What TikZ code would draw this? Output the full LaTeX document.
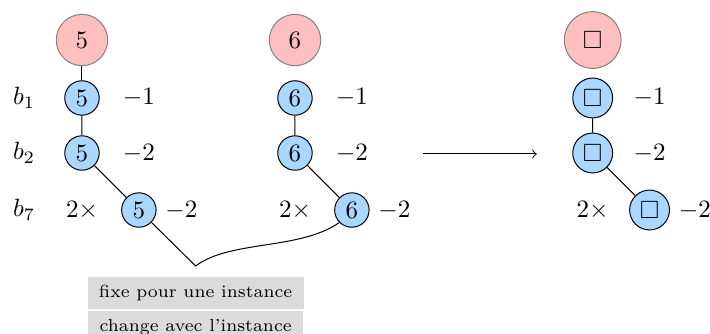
\documentclass[tikz,border=0pt]{standalone}
\usepackage{amsmath,amssymb}
\usepackage{tikz}
\usetikzlibrary{positioning}
\definecolor{racine}{RGB}{255,191,191}
\definecolor{bloc}{RGB}{170,215,255}

\begin{document}
\begin{tikzpicture}[
  racinenode/.style={circle,draw=gray,fill=racine,inner sep=4.4pt},
  blocnode/.style={circle,draw,fill=bloc,inner sep=2pt},
  notebox/.style={fill=gray!28,font=\scriptsize,text height=5pt,text depth=1.5pt,inner xsep=4.5pt,inner ysep=3.1pt},
]
  \useasboundingbox (0,0) rectangle (9.986,-4.697); % marges de la figure
  \def\yr{-0.563}  % ligne des racines
  \def\yu{-1.378}  % ligne b_1
  \def\yd{-2.152}  % ligne b_2
  \def\ys{-2.954}  % ligne b_7
  \node (lb1) at (0.34,\yu) {$b_1$};
  \node (lb2) at (0.34,\yd) {$b_2$};
  \node (lb7) at (0.34,\ys) {$b_7$};
  \foreach \g/\x/\v in {g/1.153/5, h/4.149/6, k/8.336/\square}{
    \node[racinenode] (racine-\g) at (\x,\yr) {$\v$};
    \node[blocnode] (b1-\g) at (\x,\yu) {$\v$};
    \node[blocnode] (b2-\g) at (\x,\yd) {$\v$};
    \node[blocnode] (b7-\g) at (\x+0.8,\ys) {$\v$};
    \node (m1-\g) at (\x+0.8,\yu) {$-1$};
    \node (m2-\g) at (\x+0.8,\yd) {$-2$};
    \node (f-\g) at (\x,\ys) {$2\times$};
    \node[right=0pt of b7-\g] (m7-\g) {$-2$};
    \draw (b1-\g) -- (b2-\g) -- (b7-\g);
  }
  \draw (racine-g) -- (b1-g); % seulement pour le premier
  \coordinate (fl-a) at (5.95,-2.166);
  \coordinate (fl-b) at (7.55,-2.166);
  \draw[->] (fl-a) -- (fl-b);
  % accolade vers les deux instances
  \coordinate (pointe) at (2.752,-3.741);
  \draw (b7-g) -- (pointe) .. controls +(0.48,0.365) and +(-0.557,-0.39) .. (b7-h.south west);
  \node[notebox,below=0.15cm of pointe] (fixe) {fixe pour une instance};
  \node[notebox,below=0.6pt of fixe] (change) {change avec l'instance};
\end{tikzpicture}
\end{document}
